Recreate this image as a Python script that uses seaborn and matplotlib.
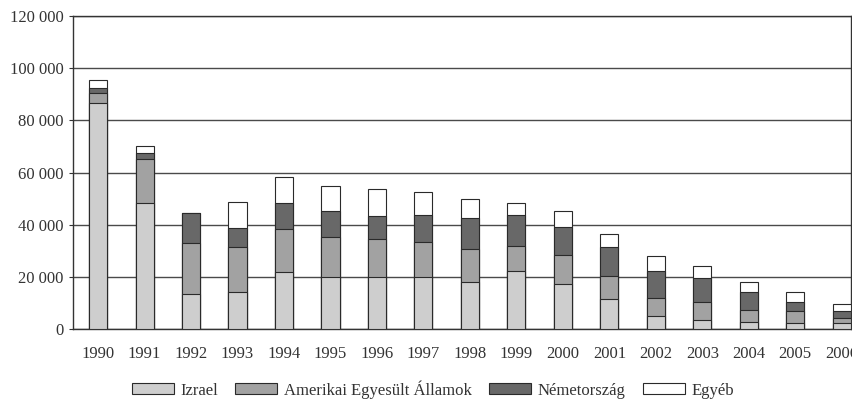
import numpy as np
import pandas as pd
import matplotlib
matplotlib.use("Agg")
import matplotlib.pyplot as plt
import seaborn as sns
from matplotlib.patches import Patch
from matplotlib.ticker import FuncFormatter, MultipleLocator

years = [str(y) for y in range(1990, 2007)]
izrael = [86500, 48400, 13500, 14100, 21700, 20100, 19900, 19900, 18200,
          22300, 17300, 11400, 5100, 3500, 2800, 2300, 2200]
usa = [4000, 16600, 19500, 17200, 16700, 15200, 14600, 13500, 12500,
       9700, 10900, 9000, 6700, 7000, 4300, 4500, 2200]
nemet = [1800, 2400, 11500, 7500, 10000, 10100, 8700, 10500, 11800,
         11900, 10800, 11100, 10500, 9000, 7000, 3600, 2500]
egyeb = [3200, 2600, 0, 9800, 10000, 9600, 10300, 8700, 7500,
         4500, 6200, 5100, 5800, 4700, 3900, 3700, 2600]

labels = ["Izrael", "Amerikai Egyesült Államok", "Németország", "Egyéb"]
colors = ["#cecece", "#a2a2a2", "#686868", "#ffffff"]

df = pd.DataFrame({"év": years, labels[0]: izrael, labels[1]: usa,
                   labels[2]: nemet, labels[3]: egyeb})

sns.set_style("white")
plt.rcParams["font.family"] = ["Liberation Serif", "DejaVu Serif"]

fig, ax = plt.subplots(figsize=(8.52, 4.12), dpi=100)
fig.subplots_adjust(left=0.0857, right=0.9988, bottom=0.2015, top=0.961)

# stacked bars: draw cumulative totals from the top series down
cum = df[labels].cumsum(axis=1)
for lab, col in zip(labels[::-1], colors[::-1]):
    sns.barplot(x=df["év"], y=cum[lab], color=col, saturation=1,
                width=0.39, edgecolor="#2a2a2a", linewidth=0.8, ax=ax, zorder=3)

ax.set_ylim(0, 120000)
ax.set_xlim(-0.54, 16.2)
ax.yaxis.set_major_locator(MultipleLocator(20000))
ax.yaxis.set_major_formatter(FuncFormatter(lambda v, p: f"{v:,.0f}".replace(",", " ")))
ax.grid(axis="y", color="#4a4a4a", linewidth=1.0, zorder=0)
ax.set_axisbelow(True)
ax.set_xlabel("")
ax.set_ylabel("")
for s in ax.spines.values():
    s.set_visible(True)
    s.set_color("#333333")
    s.set_linewidth(1.0)
ax.tick_params(axis="y", left=True, length=3, width=0.8, color="#333333",
               labelsize=12, pad=4, labelcolor="#333333")
ax.tick_params(axis="x", bottom=False, labelsize=12, pad=9, labelcolor="#333333")

handles = [Patch(facecolor=c, edgecolor="#2a2a2a", linewidth=0.8) for c in colors]
fig.legend(handles, labels, loc="center", bbox_to_anchor=(0.508, 0.055), ncol=4,
           frameon=False, fontsize=12, handlelength=2.5, handleheight=0.6,
           handletextpad=0.4, columnspacing=1.05, labelcolor="#333333")

fig.savefig("out.png", dpi=100)
